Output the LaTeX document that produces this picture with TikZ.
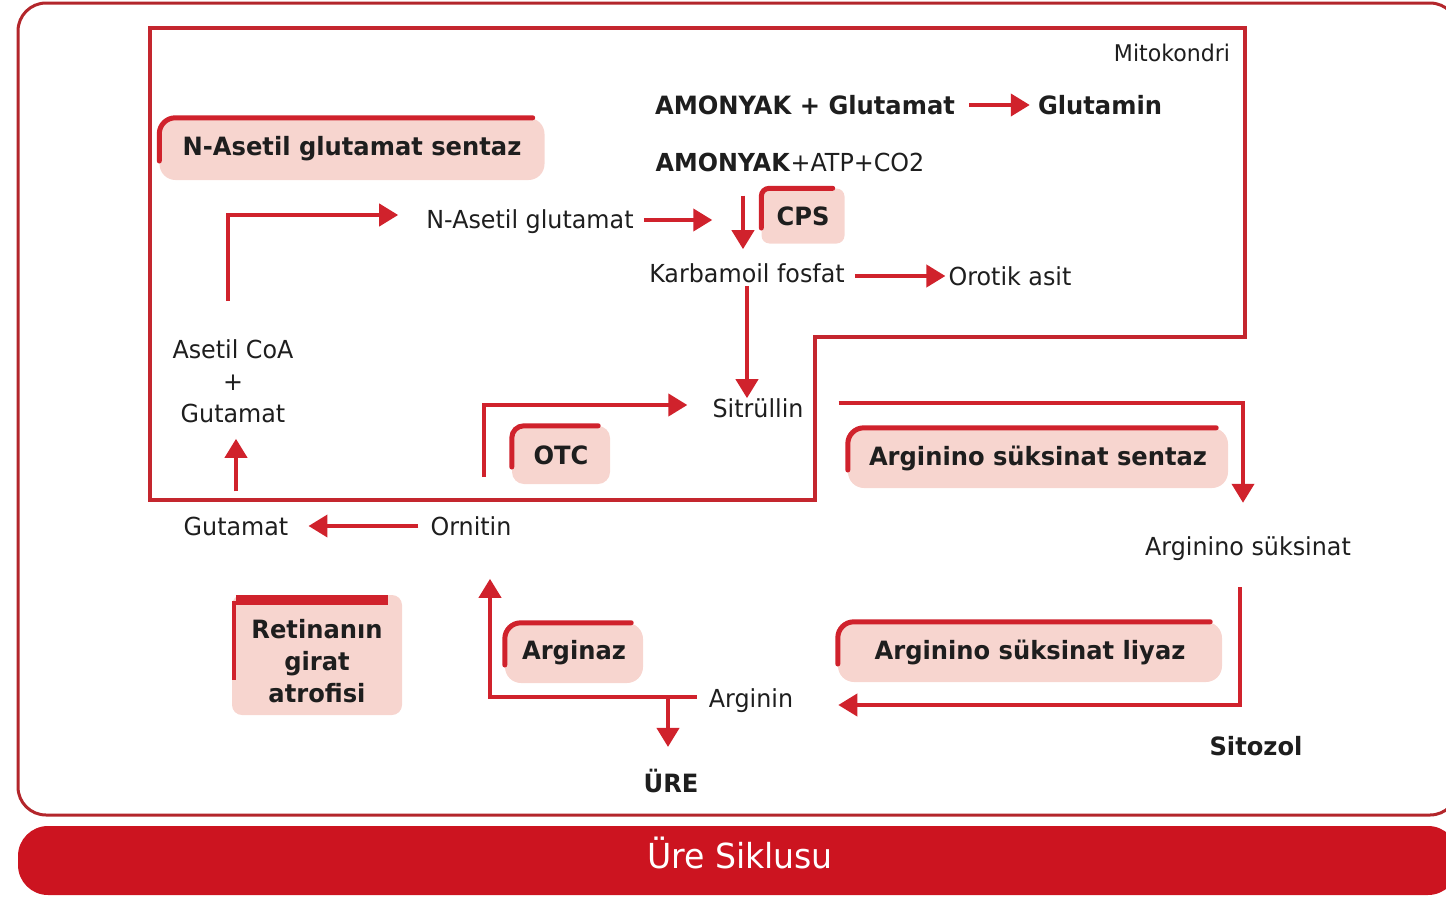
\documentclass[tikz,border=0pt]{standalone}
\usepackage{fontspec}
\setmainfont{DejaVu Sans}[FakeStretch=0.96]
\usetikzlibrary{arrows.meta}
\definecolor{rd}{HTML}{D0222C}
\definecolor{mit}{HTML}{C4262E}
\definecolor{frm}{HTML}{B3262B}
\definecolor{pinkf}{HTML}{F7D5CF}
\definecolor{barc}{HTML}{CC1420}
\definecolor{ink}{HTML}{1E1E1E}
\newcommand\accbox[2][16pt]{\draw[accent, rounded corners=#1] ([yshift=-12pt]#2.west) -- (#2.north west) -- ([xshift=-12pt]#2.north east);}
\begin{document}
\begin{tikzpicture}[x=1pt,y=-1pt,
  every node/.style={font=\fontsize{24.8}{32}\selectfont, inner sep=0pt, text=ink},
  bold/.style={font=\bfseries\fontsize{25.2}{32}\selectfont},
  arr/.style={draw=rd, line width=4pt, -{Triangle[length=19pt,width=22pt]}},
  enz/.style={fill=pinkf, rounded corners=16pt, font=\bfseries\fontsize{25.2}{32}\selectfont, align=center},
  accent/.style={draw=rd, line width=5pt, line cap=round},
]
\useasboundingbox (0,0) rectangle (1446,897);
\clip (0,0) rectangle (1446,897);
% outer frame and title bar
\draw[frm, line width=3pt, rounded corners=28pt] (18,3) rectangle (1458,815);
\fill[barc, rounded corners=30pt] (18,826) rectangle (1458,895);
\node[text=white, font=\fontsize{34.5}{38}\selectfont] (title) at (740,853) {Üre Siklusu};
% mitochondrion
\draw[mit, line width=4pt] (150,28) -- (1245,28) -- (1245,337) -- (815,337) -- (815,500) -- (150,500) -- cycle;
\node[font=\fontsize{23}{26}\selectfont] (mito) at (1172,53) {Mitokondri};
% enzyme boxes
\node[enz, minimum width=385pt, minimum height=62pt] (nags) at (352,149) {N-Asetil glutamat sentaz};
\node[enz, minimum width=83pt, minimum height=55pt, rounded corners=8pt] (cps) at (803,216) {CPS};
\node[enz, minimum width=98pt, minimum height=58pt, rounded corners=12pt] (otc) at (561,455) {OTC};
\node[enz, minimum width=380pt, minimum height=60pt] (ass) at (1038,458) {Arginino süksinat sentaz};
\node[enz, minimum width=384pt, minimum height=60pt] (asl) at (1030,652) {Arginino süksinat liyaz};
\node[enz, minimum width=138pt, minimum height=60pt] (argz) at (574,653) {Arginaz};
\node[enz, minimum width=170pt, minimum height=120pt, rounded corners=10pt] (ret) at (317,655) {};
\node[bold, align=center] (rett) at (317,661) {Retinanın\\girat\\atrofisi};
\accbox{nags}
\accbox[8pt]{cps}
\accbox[12pt]{otc}
\accbox{ass}
\accbox{asl}
\accbox{argz}
\draw[rd, line width=10pt] ([shift={(4pt,-5pt)}]ret.north west) -- ([shift={(-14pt,-5pt)}]ret.north east);
\draw[rd, line width=4pt] ([shift={(2pt,-6pt)}]ret.north west) -- ([shift={(2pt,-25pt)}]ret.west);
% texts
\node[bold] (am1) at (805,105) {AMONYAK + Glutamat};
\node[bold] (glnm) at (1100,105) {Glutamin};
\node (am2) at (790,162) {\textbf{AMONYAK}+ATP+CO2};
\node (nag) at (530,222) {N-Asetil glutamat};
\node (kf) at (747,273) {Karbamoil fosfat};
\node (ora) at (1010,276) {Orotik asit};
\node (sit) at (758,408) {Sitrüllin};
\node[align=center] (acoa) at (233,381) {Asetil CoA\\+\\Gutamat};
\node (glu) at (236,526) {Gutamat};
\node (orn) at (471,526) {Ornitin};
\node (asuc) at (1248,549) {Arginino süksinat};
\node (arg) at (751,701) {Arginin};
\node[bold] (ure) at (671,781) {ÜRE};
\node[bold] (sito) at (1256,746) {Sitozol};
\coordinate (br) at (668,697);
% connectors
\draw[arr, shorten <=14pt, shorten >=8pt] (am1.east) -- (glnm.west);
\draw[arr, shorten <=38pt, shorten >=28pt] ([xshift=-5pt]acoa.north) |- ([yshift=7pt]nag.west);
\draw[arr, shorten <=10pt, shorten >=49pt] ([yshift=2pt]nag.east) -- ([yshift=2pt]nag.east -| cps.west);
\draw[arr, shorten <=24pt, shorten >=14pt] ([xshift=-47pt]am2.south) -- ([xshift=-4pt]kf.north);
\draw[arr, shorten <=10pt, shorten >=3pt] (kf.east |- ora.west) -- (ora.west);
\draw[arr, shorten <=3pt] (kf.south) -- (kf.south |- sit.north);
\draw[arr, shorten <=12pt, shorten >=20pt] (orn.west) -- (glu.east);
\draw[arr, shorten <=25pt, shorten >=16pt] (glu.north) -- (glu.north |- acoa.south);
\draw[arr, shorten <=39pt, shorten >=25pt] ([xshift=13pt]orn.north) |- ([yshift=3pt]sit.west);
\draw[arr, shorten <=35pt, shorten >=34pt] ([yshift=5pt]sit.east) -| ([xshift=-5pt]asuc.north);
\draw[arr, shorten <=26pt, shorten >=45pt] ([xshift=-8pt]asuc.south) |- ([yshift=-4pt]arg.east);
\draw[arr, shorten <=12pt, shorten >=43pt] ([yshift=4pt]arg.west) -| ([xshift=19pt]orn.south);
\draw[arr, shorten >=22pt] (br) -- (br |- ure.north);
\end{tikzpicture}
\end{document}
